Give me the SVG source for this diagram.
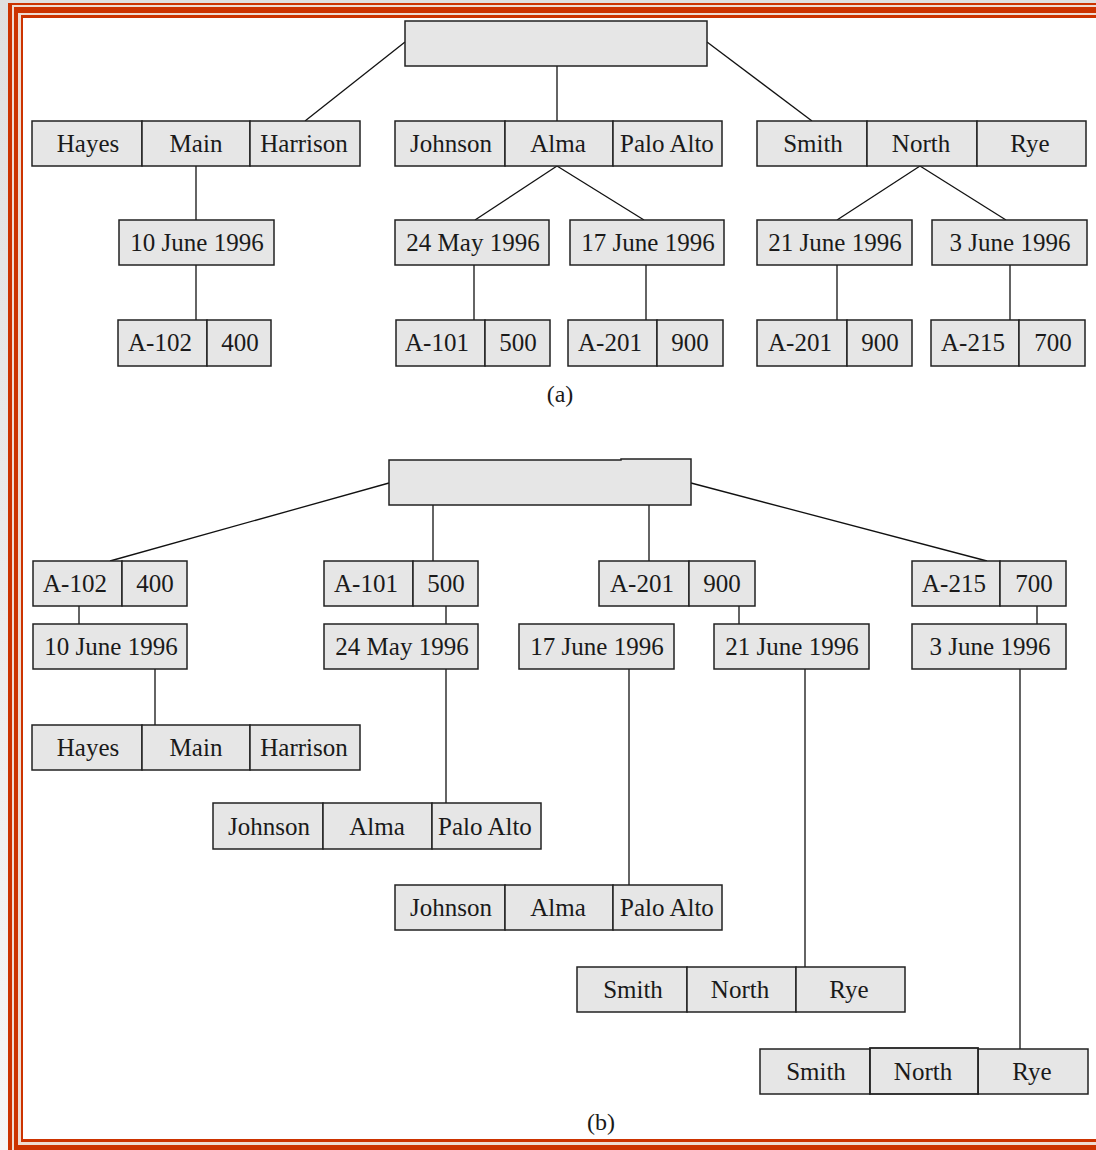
<svg xmlns="http://www.w3.org/2000/svg" width="1096" height="1150" viewBox="0 0 1096 1150">
  <style>
    .box{fill:#e6e6e6;stroke:#222;stroke-width:1.5}
    .t{font-family:'Liberation Serif','Times New Roman',serif;font-size:25px;fill:#1a1a1a;text-anchor:middle}
    .cap{font-family:'Liberation Serif','Times New Roman',serif;font-size:24px;fill:#1a1a1a;text-anchor:middle}
    .c{stroke:#111;stroke-width:1.3;fill:none}
  </style>
  <defs>
    <linearGradient id="margin" x1="0" y1="0" x2="0" y2="1">
      <stop offset="0" stop-color="#e0e0e0"/>
      <stop offset="1" stop-color="#f6f6f6"/>
    </linearGradient>
  </defs>

  <!-- page frame: triple red rule -->
  <g id="frame">
    <rect x="0" y="0" width="1096" height="1150" fill="url(#margin)"/>
    <rect x="8" y="3" width="1200" height="1200" fill="#cc3300"/>
    <rect x="12" y="5" width="1200" height="1200" fill="#eedcd2"/>
    <rect x="14" y="7" width="1200" height="1200" fill="#cc3300"/>
    <rect x="18" y="13" width="1200" height="1132" fill="#eedcd2"/>
    <rect x="21" y="15" width="1200" height="1127" fill="#cc3300"/>
    <rect x="23" y="18" width="1200" height="1121" fill="#ffffff"/>
  </g>

  <!-- connectors -->
  <g id="connectors" class="c">
    <!-- (a) -->
    <line x1="405" y1="42" x2="305" y2="121"/>
    <line x1="557" y1="66" x2="557" y2="121"/>
    <line x1="707" y1="42" x2="812" y2="121"/>
    <line x1="196" y1="166" x2="196" y2="220"/>
    <line x1="557" y1="166" x2="475" y2="220"/>
    <line x1="557" y1="166" x2="644" y2="220"/>
    <line x1="920" y1="166" x2="837" y2="220"/>
    <line x1="920" y1="166" x2="1006" y2="220"/>
    <line x1="196" y1="265" x2="196" y2="320"/>
    <line x1="474" y1="265" x2="474" y2="320"/>
    <line x1="646" y1="265" x2="646" y2="320"/>
    <line x1="837" y1="265" x2="837" y2="320"/>
    <line x1="1010" y1="265" x2="1010" y2="320"/>
    <!-- (b) -->
    <line x1="389" y1="483" x2="110" y2="561"/>
    <line x1="433" y1="505" x2="433" y2="561"/>
    <line x1="649" y1="505" x2="649" y2="561"/>
    <line x1="691" y1="483" x2="987" y2="561"/>
    <line x1="79" y1="606" x2="79" y2="624"/>
    <line x1="446" y1="606" x2="446" y2="624"/>
    <line x1="739" y1="606" x2="739" y2="624"/>
    <line x1="1037" y1="606" x2="1037" y2="624"/>
    <line x1="155" y1="669" x2="155" y2="725"/>
    <line x1="446" y1="669" x2="446" y2="803"/>
    <line x1="629" y1="669" x2="629" y2="885"/>
    <line x1="805" y1="669" x2="805" y2="967"/>
    <line x1="1020" y1="669" x2="1020" y2="1049"/>
  </g>

  <!-- (a) nested structure -->
  <g id="a-root"><rect class="box" x="405" y="21" width="302" height="45"/></g>

  <g id="a-hayes">
    <rect class="box" x="32" y="121" width="110" height="45"/>
    <rect class="box" x="142" y="121" width="108" height="45"/>
    <rect class="box" x="250" y="121" width="110" height="45"/>
    <text class="t" x="88" y="152">Hayes</text>
    <text class="t" x="196" y="152">Main</text>
    <text class="t" x="304" y="152">Harrison</text>
  </g>
  <g id="a-johnson">
    <rect class="box" x="395" y="121" width="110" height="45"/>
    <rect class="box" x="505" y="121" width="108" height="45"/>
    <rect class="box" x="613" y="121" width="109" height="45"/>
    <text class="t" x="451" y="152">Johnson</text>
    <text class="t" x="558" y="152">Alma</text>
    <text class="t" x="667" y="152">Palo Alto</text>
  </g>
  <g id="a-smith">
    <rect class="box" x="757" y="121" width="110" height="45"/>
    <rect class="box" x="867" y="121" width="110" height="45"/>
    <rect class="box" x="977" y="121" width="109" height="45"/>
    <text class="t" x="813" y="152">Smith</text>
    <text class="t" x="921" y="152">North</text>
    <text class="t" x="1030" y="152">Rye</text>
  </g>

  <g id="a-d1"><rect class="box" x="119" y="220" width="155" height="45"/><text class="t" x="197" y="251">10 June 1996</text></g>
  <g id="a-d2"><rect class="box" x="395" y="220" width="154" height="45"/><text class="t" x="473" y="251">24 May 1996</text></g>
  <g id="a-d3"><rect class="box" x="570" y="220" width="154" height="45"/><text class="t" x="648" y="251">17 June 1996</text></g>
  <g id="a-d4"><rect class="box" x="757" y="220" width="155" height="45"/><text class="t" x="835" y="251">21 June 1996</text></g>
  <g id="a-d5"><rect class="box" x="932" y="220" width="155" height="45"/><text class="t" x="1010" y="251">3 June 1996</text></g>

  <g id="a-acc1">
    <rect class="box" x="118" y="320" width="89" height="46"/><rect class="box" x="207" y="320" width="64" height="46"/>
    <text class="t" x="160" y="351">A-102</text><text class="t" x="240" y="351">400</text>
  </g>
  <g id="a-acc2">
    <rect class="box" x="396" y="320" width="89" height="46"/><rect class="box" x="485" y="320" width="65" height="46"/>
    <text class="t" x="437" y="351">A-101</text><text class="t" x="518" y="351">500</text>
  </g>
  <g id="a-acc3">
    <rect class="box" x="568" y="320" width="89" height="46"/><rect class="box" x="657" y="320" width="66" height="46"/>
    <text class="t" x="610" y="351">A-201</text><text class="t" x="690" y="351">900</text>
  </g>
  <g id="a-acc4">
    <rect class="box" x="757" y="320" width="90" height="46"/><rect class="box" x="847" y="320" width="65" height="46"/>
    <text class="t" x="800" y="351">A-201</text><text class="t" x="880" y="351">900</text>
  </g>
  <g id="a-acc5">
    <rect class="box" x="931" y="320" width="88" height="46"/><rect class="box" x="1019" y="320" width="66" height="46"/>
    <text class="t" x="973" y="351">A-215</text><text class="t" x="1053" y="351">700</text>
  </g>

  <text class="cap" x="560" y="402">(a)</text>

  <!-- (b) flattened structure -->
  <g id="b-root"><path class="box" d="M389,460 H621 V459 H691 V505 H389 Z"/></g>

  <g id="b-acc1">
    <rect class="box" x="33" y="561" width="89" height="45"/><rect class="box" x="122" y="561" width="65" height="45"/>
    <text class="t" x="75" y="592">A-102</text><text class="t" x="155" y="592">400</text>
  </g>
  <g id="b-acc2">
    <rect class="box" x="324" y="561" width="89" height="45"/><rect class="box" x="413" y="561" width="65" height="45"/>
    <text class="t" x="366" y="592">A-101</text><text class="t" x="446" y="592">500</text>
  </g>
  <g id="b-acc3">
    <rect class="box" x="599" y="561" width="90" height="45"/><rect class="box" x="689" y="561" width="66" height="45"/>
    <text class="t" x="642" y="592">A-201</text><text class="t" x="722" y="592">900</text>
  </g>
  <g id="b-acc4">
    <rect class="box" x="912" y="561" width="88" height="45"/><rect class="box" x="1000" y="561" width="66" height="45"/>
    <text class="t" x="954" y="592">A-215</text><text class="t" x="1034" y="592">700</text>
  </g>

  <g id="b-d1"><rect class="box" x="33" y="624" width="154" height="45"/><text class="t" x="111" y="655">10 June 1996</text></g>
  <g id="b-d2"><rect class="box" x="324" y="624" width="154" height="45"/><text class="t" x="402" y="655">24 May 1996</text></g>
  <g id="b-d3"><rect class="box" x="519" y="624" width="155" height="45"/><text class="t" x="597" y="655">17 June 1996</text></g>
  <g id="b-d4"><rect class="box" x="714" y="624" width="155" height="45"/><text class="t" x="792" y="655">21 June 1996</text></g>
  <g id="b-d5"><rect class="box" x="912" y="624" width="154" height="45"/><text class="t" x="990" y="655">3 June 1996</text></g>

  <g id="b-hayes">
    <rect class="box" x="32" y="725" width="110" height="45"/>
    <rect class="box" x="142" y="725" width="108" height="45"/>
    <rect class="box" x="250" y="725" width="110" height="45"/>
    <text class="t" x="88" y="756">Hayes</text>
    <text class="t" x="196" y="756">Main</text>
    <text class="t" x="304" y="756">Harrison</text>
  </g>
  <g id="b-johnson1">
    <rect class="box" x="213" y="803" width="110" height="46"/>
    <rect class="box" x="323" y="803" width="109" height="46"/>
    <rect class="box" x="432" y="803" width="109" height="46"/>
    <text class="t" x="269" y="835">Johnson</text>
    <text class="t" x="377" y="835">Alma</text>
    <text class="t" x="485" y="835">Palo Alto</text>
  </g>
  <g id="b-johnson2">
    <rect class="box" x="395" y="885" width="110" height="45"/>
    <rect class="box" x="505" y="885" width="108" height="45"/>
    <rect class="box" x="613" y="885" width="109" height="45"/>
    <text class="t" x="451" y="916">Johnson</text>
    <text class="t" x="558" y="916">Alma</text>
    <text class="t" x="667" y="916">Palo Alto</text>
  </g>
  <g id="b-smith1">
    <rect class="box" x="577" y="967" width="110" height="45"/>
    <rect class="box" x="687" y="967" width="109" height="45"/>
    <rect class="box" x="796" y="967" width="109" height="45"/>
    <text class="t" x="633" y="998">Smith</text>
    <text class="t" x="740" y="998">North</text>
    <text class="t" x="849" y="998">Rye</text>
  </g>
  <g id="b-smith2">
    <rect class="box" x="760" y="1049" width="110" height="45"/>
    <rect class="box" x="978" y="1049" width="110" height="45"/>
    <rect class="box" x="870" y="1048" width="108" height="46" style="stroke-width:1.8"/>
    <text class="t" x="816" y="1080">Smith</text>
    <text class="t" x="923" y="1080">North</text>
    <text class="t" x="1032" y="1080">Rye</text>
  </g>

  <text class="cap" x="601" y="1130">(b)</text>
</svg>
